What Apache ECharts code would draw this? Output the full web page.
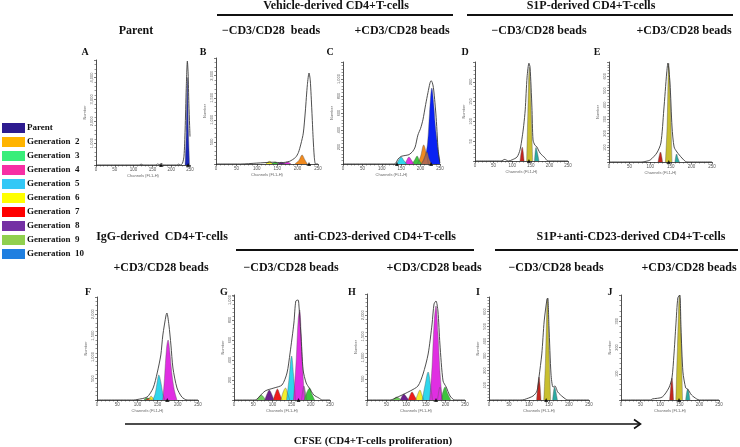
<!DOCTYPE html>
<html><head><meta charset="utf-8">
<script src="https://cdn.jsdelivr.net/npm/echarts/dist/echarts.min.js"></script>
<style>html,body{margin:0;padding:0;background:#fff}#c{width:740px;height:447px}</style>
</head><body><div id="c"></div>
<script>
// ---------- data ----------
const xTickLabels = [0, 50, 100, 150, 200, 250];
const legendNames = ['Parent','Generation  2','Generation  3','Generation  4','Generation  5','Generation  6','Generation  7','Generation  8','Generation  9','Generation  10'];

// y-axis extents [max, step] per panel
const yA = [4800, 1000], yB = [2400, 500], yC = [1200, 200], yD = [250, 50], yE = [700, 100];
const yF = [2400, 500], yG = [1050, 200], yH = [2500, 500], yI = [700, 100], yJ = [400, 100];

// Panel A – Parent
const A_env = [[0,0],[115,0],[120,40],[125,0],[160,0],[163,50],[168,20],[175,60],[180,0],[215,0],[220,40],[225,0],[230,80],[234,400],[237,1600],[240,3500],[243,4750],[245,4200],[247,2800],[249,1800],[250,1300]];
const A_parent = [[237,0],[240,1500],[243,4000],[246,1500],[249,0]];
const A_marks = [173, 245];

// Panel B – Vehicle, -beads
const B_env = [[0,0],[60,0],[100,20],[140,40],[160,30],[180,60],[195,150],[202,260],[208,450],[214,700],[219,1200],[224,1800],[228,2060],[231,1900],[235,1200],[238,600],[241,150],[244,0],[250,0]];
const B_g2 = [[193,0],[203,80],[211,205],[218,90],[224,0]];
const B_g6 = [[122,0],[131,60],[140,0]];
const B_g3 = [[136,0],[145,45],[154,0]];
const B_g8 = [[150,0],[160,40],[170,0]];
const B_g4 = [[166,0],[175,45],[184,0]];
const B_marks = [228];

// Panel C – Vehicle, +beads
const C_env = [[0,0],[130,0],[136,10],[142,60],[150,90],[160,100],[170,110],[180,150],[186,200],[193,340],[200,420],[206,520],[213,700],[219,840],[224,950],[227,980],[230,960],[233,900],[237,720],[240,550],[243,330],[245,170],[248,60],[250,10]];
const C_parent = [[200,0],[210,60],[218,250],[223,600],[229,894],[234,700],[238,450],[243,250],[248,80],[250,40]];
const C_g2 = [[192,0],[200,90],[208,224],[214,140],[220,0]];
const C_extra = [[203,0],[210,80],[216,141],[222,60],[228,0]];
const C_g3 = [[178,0],[185,50],[191,94],[197,40],[203,0]];
const C_g4 = [[160,0],[165,50],[170,82],[177,40],[183,0]];
const C_g5 = [[138,0],[144,50],[150,82],[157,40],[165,0]];
const C_marks = [139, 227];

// Panel D – S1P, -beads
const D_env = [[0,0],[70,0],[80,4],[90,0],[100,3],[113,10],[121,28],[127,61],[131,90],[135,129],[140,212],[145,247],[148,237],[153,136],[156,53],[161,40],[166,36],[175,20],[188,8],[196,0],[250,0]];
const D_g6 = [[139,0],[142,120],[146,237],[150,150],[155,0]];
const D_g7 = [[121,0],[127,35],[132,0]];
const D_g5 = [[160,0],[164,34],[168,20],[172,0]];
const D_marks = [145];

// Panel E – S1P, +beads
const E_env = [[0,0],[80,0],[90,5],[100,14],[116,63],[126,133],[133,364],[140,623],[143,693],[148,553],[153,245],[158,105],[165,70],[177,28],[189,0],[250,0]];
const E_g6 = [[137,0],[141,250],[145,690],[149,400],[153,0]];
const E_g7 = [[119,0],[125,70],[130,0]];
const E_g5 = [[160,0],[164,56],[167,30],[171,0]];
const E_marks = [145];

// Panel F – IgG, +beads
const F_env = [[0,0],[90,0],[99,10],[124,70],[139,280],[149,630],[158,1050],[163,1515],[171,1980],[173,2027],[178,1750],[183,1280],[188,745],[198,280],[210,70],[223,0],[250,0]];
const F_g4 = [[163,0],[167,500],[172,1200],[176,1398],[180,1150],[185,650],[191,250],[198,0]];
const F_g5 = [[138,0],[144,150],[149,420],[153,583],[158,420],[163,150],[168,0]];
const F_g9 = [[116,0],[124,50],[132,0]];
const F_g7 = [[121,0],[129,40],[136,0]];
const F_g6 = [[127,0],[134,90],[141,0]];
const F_marks = [174];

// Panel G – anti-CD23, -beads
const G_env = [[0,0],[55,0],[60,10],[81,90],[104,120],[125,150],[138,270],[146,470],[156,770],[161,990],[167,1000],[169,950],[174,670],[180,300],[188,170],[196,120],[208,50],[221,20],[230,0],[250,0]];
const G_g4 = [[155,0],[162,400],[167,800],[171,900],[175,650],[179,300],[184,0]];
const G_g5 = [[137,0],[143,200],[150,440],[155,250],[160,0]];
const G_g3 = [[183,0],[190,80],[197,120],[203,60],[210,0]];
const G_g6 = [[122,0],[128,80],[134,120],[140,60],[145,0]];
const G_g7 = [[102,0],[108,70],[113,110],[119,60],[125,0]];
const G_g8 = [[80,0],[86,60],[92,100],[98,60],[104,0]];
const G_g9 = [[60,0],[66,35],[71,50],[77,30],[82,0]];
const G_extra = [[176,0],[182,140],[189,0]];
const G_marks = [168];

// Panel H – anti-CD23, +beads
const H_env = [[0,0],[58,0],[64,10],[84,94],[110,212],[130,330],[143,613],[156,1085],[166,1792],[171,2264],[176,2335],[181,2099],[186,1321],[194,448],[202,307],[212,94],[224,0],[250,0]];
const H_g4 = [[160,0],[166,800],[171,1800],[176,2217],[181,1600],[186,700],[192,0]];
const H_g5 = [[141,0],[148,350],[156,660],[162,350],[167,0]];
const H_g3 = [[189,0],[194,200],[199,307],[206,150],[214,0]];
const H_g6 = [[124,0],[130,150],[135,236],[140,120],[145,0]];
const H_g7 = [[105,0],[110,120],[115,189],[121,100],[127,0]];
const H_g8 = [[85,0],[90,100],[94,142],[100,80],[106,0]];
const H_g9 = [[66,0],[71,50],[76,71],[82,40],[88,0]];
const H_extra = [[180,0],[186,300],[192,0]];
const H_marks = [176];

// Panel I – S1P+anti-CD23, -beads
const I_env = [[0,0],[80,0],[88,3],[110,27],[120,61],[125,156],[132,313],[138,537],[145,686],[147,693],[150,496],[155,177],[160,88],[165,95],[172,54],[185,20],[197,0],[250,0]];
const I_g6 = [[137,0],[141,250],[146,690],[150,350],[154,0]];
const I_g7 = [[119,0],[125,156],[130,0]];
const I_g5 = [[159,0],[164,88],[167,60],[171,0]];
const I_marks = [143];

// Panel J – S1P+anti-CD23, +beads
const J_env = [[0,0],[75,0],[80,4],[105,11],[122,46],[130,84],[135,171],[140,286],[145,389],[150,400],[153,274],[158,107],[165,46],[170,42],[180,19],[193,4],[200,0],[250,0]];
const J_g6 = [[140,0],[144,200],[149,400],[153,250],[157,0]];
const J_g7 = [[124,0],[130,84],[134,0]];
const J_g5 = [[165,0],[170,42],[173,30],[176,0]];
const J_marks = [148];

// ---------- styles / layout ----------
const legendColors = ['#2d1b90','#ffb400','#38ee7a','#f72fa4','#34c8f6','#ffff00','#ff0000','#7430a4','#90d04e','#1f7fe0'];
const col = {parentDark:'#1b27b8', parentBlue:'#0a22f2', orange:'#f08a1f', green:'#3ec43e', magenta:'#e02ee2', cyan:'#30d6ec',
  brown:'#b46a50', yellow:'#f3ee2c', red:'#ee1c1c', purple:'#6c1f8c', lightgreen:'#6fce5c', olive:'#c9bf2f', darkred:'#c4241c', teal:'#2aaaa2', mauve:'#a48aa8'};
const SERIF = '"Liberation Serif","DejaVu Serif",serif';

const panels = [
  {grid:{left:96,top:60,width:94,height:105}, y:yA, env:A_env, marks:A_marks, fills:[['Parent',A_parent,col.parentDark]]},
  {grid:{left:216,top:58,width:102,height:106}, y:yB, env:B_env, marks:B_marks, fills:[['Generation  6',B_g6,col.yellow],['Generation  3',B_g3,col.green],['Generation  8',B_g8,col.purple],['Generation  4',B_g4,col.magenta],['Generation  2',B_g2,col.orange]]},
  {grid:{left:343,top:62,width:97,height:102}, y:yC, env:C_env, marks:C_marks, fills:[['Parent',C_parent,col.parentBlue],['Generation  2',C_g2,col.orange],['fit',C_extra,col.brown],['Generation  3',C_g3,col.green],['Generation  4',C_g4,col.magenta],['Generation  5',C_g5,col.cyan]]},
  {grid:{left:475,top:62,width:93,height:99}, y:yD, env:D_env, marks:D_marks, fills:[['Generation  6',D_g6,col.olive],['Generation  7',D_g7,col.darkred],['Generation  5',D_g5,col.teal]]},
  {grid:{left:609,top:62,width:103,height:100}, y:yE, env:E_env, marks:E_marks, fills:[['Generation  6',E_g6,col.olive],['Generation  7',E_g7,col.darkred],['Generation  5',E_g5,col.teal]]},
  {grid:{left:97,top:297,width:101,height:103}, y:yF, env:F_env, marks:F_marks, fills:[['Generation  9',F_g9,col.green],['Generation  7',F_g7,col.red],['Generation  6',F_g6,col.yellow],['Generation  5',F_g5,col.cyan],['Generation  4',F_g4,col.magenta]]},
  {grid:{left:234,top:295,width:96,height:105}, y:yG, env:G_env, marks:G_marks, fills:[['Generation  9',G_g9,col.lightgreen],['Generation  8',G_g8,col.purple],['Generation  7',G_g7,col.red],['Generation  6',G_g6,col.yellow],['Generation  5',G_g5,col.cyan],['fit',G_extra,col.mauve],['Generation  3',G_g3,col.green],['Generation  4',G_g4,col.magenta]]},
  {grid:{left:367,top:294,width:98,height:106}, y:yH, env:H_env, marks:H_marks, fills:[['Generation  9',H_g9,col.lightgreen],['Generation  8',H_g8,col.purple],['Generation  7',H_g7,col.red],['Generation  6',H_g6,col.yellow],['Generation  5',H_g5,col.cyan],['fit',H_extra,col.mauve],['Generation  3',H_g3,col.green],['Generation  4',H_g4,col.magenta]]},
  {grid:{left:489,top:297,width:100,height:103}, y:yI, env:I_env, marks:I_marks, fills:[['Generation  6',I_g6,col.olive],['Generation  7',I_g7,col.darkred],['Generation  5',I_g5,col.teal]]},
  {grid:{left:621,top:295,width:98,height:105}, y:yJ, env:J_env, marks:J_marks, fills:[['Generation  6',J_g6,col.olive],['Generation  7',J_g7,col.darkred],['Generation  5',J_g5,col.teal]]}
];

const texts = [
  ['Vehicle-derived CD4+T-cells',336,6,12],['S1P-derived CD4+T-cells',591,6,12],
  ['Parent',136,31,12],['\u2212CD3/CD28  beads',271,31,12],['+CD3/CD28 beads',402,31,12],['\u2212CD3/CD28 beads',539,31,12],['+CD3/CD28 beads',684,31,12],
  ['IgG-derived  CD4+T-cells',162,237,12],['anti-CD23-derived CD4+T-cells',375,237,12],['S1P+anti-CD23-derived CD4+T-cells',631,237,12],
  ['+CD3/CD28 beads',161,268,12],['\u2212CD3/CD28 beads',291,268,12],['+CD3/CD28 beads',434,268,12],['\u2212CD3/CD28 beads',556,268,12],['+CD3/CD28 beads',689,268,12],
  ['A',85,52,10],['B',203,52,10],['C',330,52,10],['D',465,52,10],['E',597,52,10],
  ['F',88,292,10],['G',224,292,10],['H',352,292,10],['I',478,292,10],['J',610,292,10],
  ['CFSE (CD4+T-cells proliferation)',373,441,11]
];
const rules = [[217,15,453,15],[467,15,733,15],[236,250,474,250],[495,250,738,250]];

// ---------- build ----------
const grids = [], xAxes = [], yAxes = [], series = [];
panels.forEach((p, i) => {
  grids.push(Object.assign({containLabel:false}, p.grid));
  xAxes.push({gridIndex:i, type:'value', min:xTickLabels[0], max:xTickLabels[xTickLabels.length-1], interval:xTickLabels[1]-xTickLabels[0],
    axisLine:{show:true, onZero:false, lineStyle:{color:'#222', width:0.8}},
    axisTick:{show:true, length:2, lineStyle:{color:'#222', width:0.6}},
    minorTick:{show:true, splitNumber:5, length:1.5, lineStyle:{color:'#333', width:0.5}},
    axisLabel:{fontSize:4.5, color:'#555', margin:2.5, fontFamily:'Liberation Sans'},
    splitLine:{show:false},
    name:'Channels (FL1-H)', nameLocation:'middle', nameGap:8, nameTextStyle:{fontSize:4, color:'#666', fontFamily:'Liberation Sans'}});
  yAxes.push({gridIndex:i, type:'value', min:0, max:p.y[0], interval:p.y[1],
    axisLine:{show:true, lineStyle:{color:'#222', width:0.8}},
    axisTick:{show:true, length:2, lineStyle:{color:'#222', width:0.6}},
    minorTick:{show:true, splitNumber:5, length:1.5, lineStyle:{color:'#333', width:0.5}},
    axisLabel:{fontSize:4, color:'#666', margin:2.5, rotate:90, showMaxLabel:false, showMinLabel:false, fontFamily:'Liberation Sans'},
    splitLine:{show:false},
    name:'Number', nameLocation:'middle', nameRotate:90, nameGap:9, nameTextStyle:{fontSize:4, color:'#666', fontFamily:'Liberation Sans'}});
  p.fills.forEach(f => {
    series.push({type:'line', name:f[0], xAxisIndex:i, yAxisIndex:i, data:f[1], smooth:0.35, symbol:'none', silent:true,
      lineStyle:{color:'#555', width:0.4}, itemStyle:{color:f[2]}, areaStyle:{color:f[2], opacity:1}, z:2});
  });
  series.push({type:'line', name:'Envelope', xAxisIndex:i, yAxisIndex:i, data:p.env, smooth:0.25, symbol:'none', silent:true,
    lineStyle:{color:'#3a3a3a', width:0.9}, itemStyle:{color:'#3a3a3a'}, z:3});
  series.push({type:'scatter', name:'Marker', xAxisIndex:i, yAxisIndex:i, data:p.marks.map(x => [x, 0]), symbol:'triangle', symbolSize:4, silent:true,
    itemStyle:{color:'#000'}, z:4});
});
// legend entry present in the key but without a visible peak in these panels
series.push({type:'line', name:'Generation  10', xAxisIndex:0, yAxisIndex:0, data:[], symbol:'none', itemStyle:{color:legendColors[9]}});

const elements = texts.map(t => ({type:'text', silent:true, style:{text:t[0], x:t[1], y:t[2], textAlign:'center', textVerticalAlign:'middle',
  font:'bold ' + t[3] + 'px ' + SERIF, fill:'#111'}}));
rules.forEach(r => elements.push({type:'line', silent:true, shape:{x1:r[0], y1:r[1], x2:r[2], y2:r[3]}, style:{stroke:'#111', lineWidth:2}}));
elements.push({type:'line', silent:true, shape:{x1:125, y1:424, x2:640, y2:424}, style:{stroke:'#111', lineWidth:1.6}});
elements.push({type:'polyline', silent:true, shape:{points:[[634,419.5],[640.5,424],[634,428.5]]}, style:{stroke:'#111', lineWidth:1.6, fill:null}});

const chart = echarts.init(document.getElementById('c'), null, {renderer:'canvas'});
chart.setOption({
  animation:false,
  backgroundColor:'#fff',
  legend:{orient:'vertical', left:2, top:123, itemGap:4, itemWidth:23, itemHeight:10, padding:0, selectedMode:false,
    icon:'rect',
    data:legendNames.map((n, k) => ({name:n, icon:'rect', itemStyle:{color:legendColors[k], borderWidth:0}})),
    textStyle:{fontFamily:SERIF, fontWeight:'bold', fontSize:9, color:'#111', padding:[0,0,0,-3]}},
  grid:grids, xAxis:xAxes, yAxis:yAxes, series:series,
  graphic:{elements:elements}
});
</script></body></html>
